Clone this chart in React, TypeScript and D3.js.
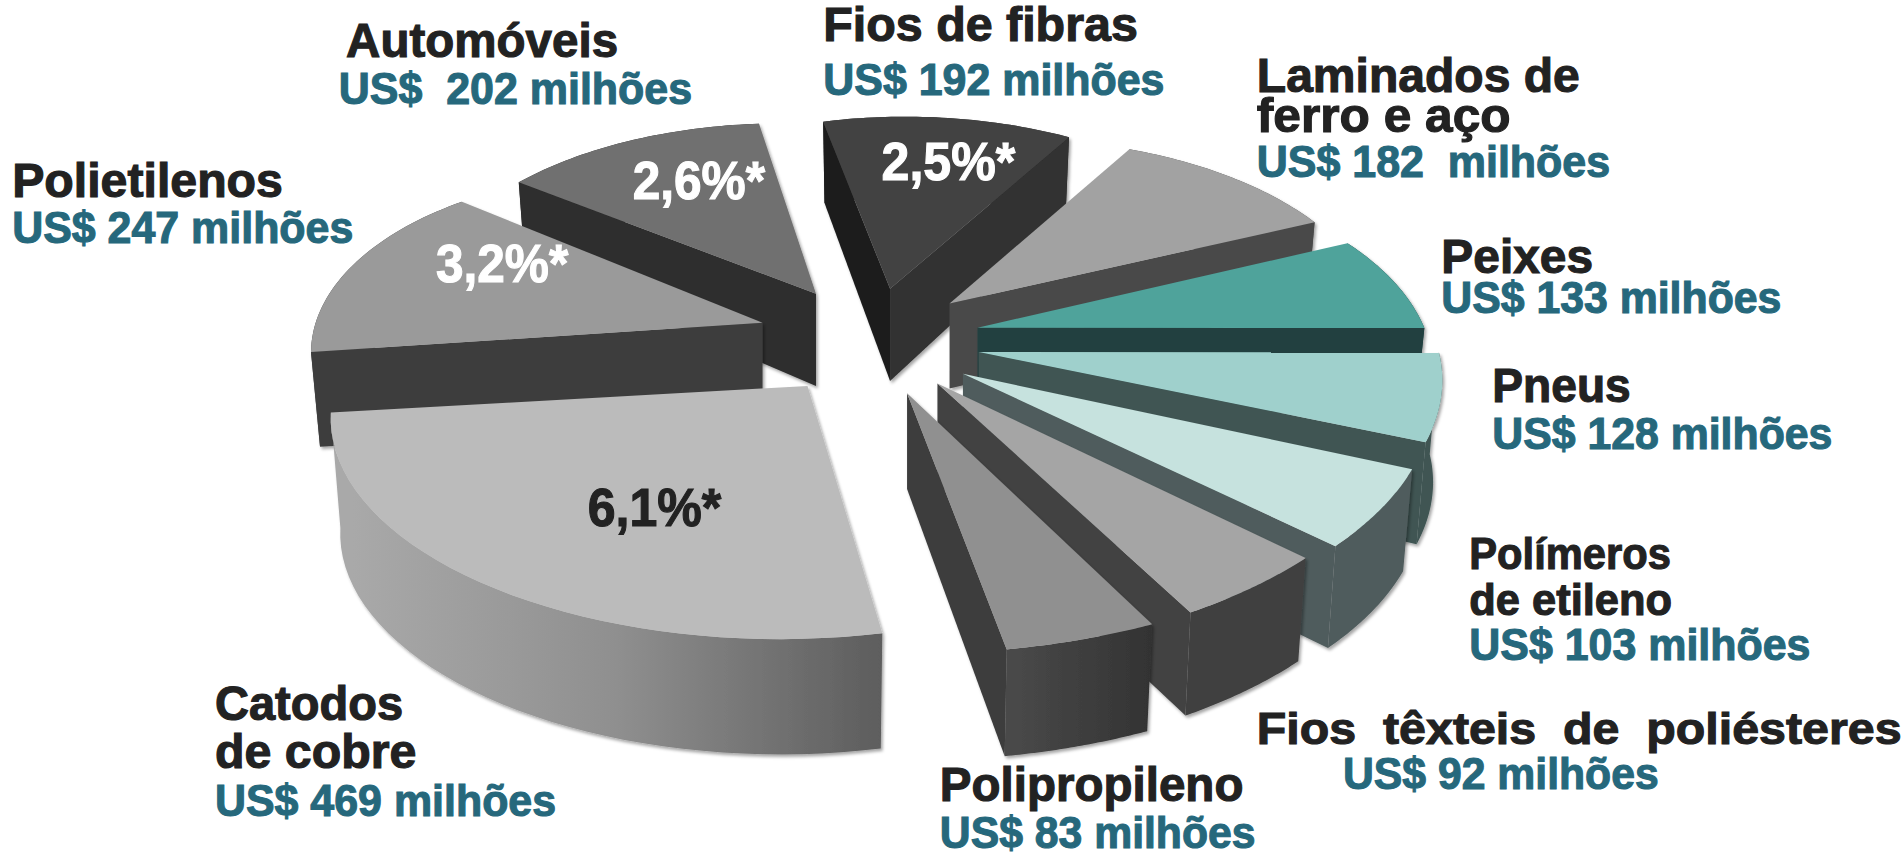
import React from "react";
import * as d3 from "d3";

const categories = ["Catodos de cobre", "Polietilenos", "Automóveis", "Fios de fibras", "Laminados de ferro e aço", "Peixes", "Pneus", "Polímeros de etileno", "Fios têxteis de poliésteres", "Polipropileno"];
const values = [469, 247, 202, 192, 182, 133, 128, 103, 92, 83];

// Layout, in the 1568-wide reference frame
const apexX = [665, 628, 672, 733, 782, 805, 806, 793, 772, 747];
const apexY = [318, 266, 242, 238, 250, 270, 290, 308, 316, 324];
const radiusStart = [412, 375, 306, 281, 294, 335, 379, 402, 418, 431];
const radiusEnd = [395, 318, 284, 290, 329, 368, 397, 418, 431, 430];
const radiusBulge = [18, 4, 0, 0, 0, 0, 0, 0, 0, 0];
const nudgeStart = [0, -1, -5.3, -3.2, 0.6, 0, -1.5, -3.7, -3.5, -3];
const nudgeEnd = [0, -3.3, -1.4, 0.9, 0.6, -1.5, -4.7, -4.2, -4, -2.4];
const depthApex = [85, 80, 76, 76, 70, 70, 75, 80, 82, 79];
const depthRim = [95, 78, 65, 67, 68, 70, 84, 84, 85, 88];
const topColors = ["#bbbbbb", "#9a9a9a", "#707070", "#434343", "#a2a2a2", "#4fa39b", "#9fd0cc", "#c6e2de", "#a5a5a5", "#909090"];
const startWall = ["#555", "#3e3e3e", "#2d2d2d", "#1c1c1c", "#4a4a4a", "#204040", "#3f5553", "#505c5d", "#434343", "#3c3c3c"];
const endWall = ["#555", "#3e3e3e", "#2d2d2d", "#303030", "#4a4a4a", "#204040", "#3f5553", "#505c5d", "#434343", "#3c3c3c"];
const rimWall = ["url(#gCat)", "#3e3e3e", "#2d2d2d", "#303030", "#4a4a4a", "#204040", "#3f5553", "#505c5d", "#404040", "url(#gPoli)"];
const paintOrder = [2, 3, 4, 1, 5, 6, 7, 8, 9, 0];

const Y_RATIO = 0.5;
const START_DEG = 171.4;
const SHRINK = 0.98;
const BLACK = "#222222";
const TEAL = "#26687c";
const WHITE = "#ffffff";
const HEAD = 39;
const MONEY = 36;

// text, x0, x1, baseline, colour, size
type Label = [string, number, number, number, string, number];
const labels: Label[] = [
  ["Automóveis", 285, 509, 47, BLACK, HEAD],
  ["US$  202 milhões", 279, 570, 86, TEAL, MONEY],
  ["Fios de fibras", 678, 937, 34, BLACK, HEAD],
  ["US$ 192 milhões", 678, 959, 78, TEAL, MONEY],
  ["Laminados de", 1035, 1301, 76, BLACK, HEAD],
  ["ferro e aço", 1035, 1244, 109, BLACK, HEAD],
  ["US$ 182  milhões", 1035, 1326, 146, TEAL, MONEY],
  ["Peixes", 1187, 1312, 225, BLACK, HEAD],
  ["US$ 133 milhões", 1187, 1467, 258, TEAL, MONEY],
  ["Pneus", 1229, 1343, 331, BLACK, HEAD],
  ["US$ 128 milhões", 1229, 1509, 370, TEAL, MONEY],
  ["Polímeros", 1210, 1376, 469, BLACK, 36],
  ["de etileno", 1210, 1377, 507, BLACK, 36],
  ["US$ 103 milhões", 1210, 1491, 544, TEAL, MONEY],
  ["Fios  têxteis  de  poliésteres", 1035, 1566, 613, BLACK, 37],
  ["US$ 92 milhões", 1106, 1366, 650, TEAL, MONEY],
  ["Polipropileno", 774, 1024, 660, BLACK, HEAD],
  ["US$ 83 milhões", 774, 1034, 699, TEAL, MONEY],
  ["Catodos", 177, 332, 593, BLACK, HEAD],
  ["de cobre", 177, 343, 633, BLACK, HEAD],
  ["US$ 469 milhões", 177, 458, 672, TEAL, MONEY],
  ["Polietilenos", 10, 233, 162, BLACK, HEAD],
  ["US$ 247 milhões", 10, 291, 200, TEAL, MONEY],
  ["2,6%*", 521, 630, 164, WHITE, 44],
  ["2,5%*", 726, 836, 148, WHITE, 44],
  ["3,2%*", 359, 468, 232, WHITE, 44],
  ["6,1%*", 484, 594, 433, BLACK, 44],
];

const pieAngles = d3
  .pie<number>()
  .sort(null)
  .startAngle((START_DEG * Math.PI) / 180)
  .endAngle((START_DEG * Math.PI) / 180 + 2 * Math.PI)(values);

const line = d3.line<[number, number]>().x((d) => d[0]).y((d) => d[1]);

function slice(i: number) {
  const a0 = pieAngles[i].startAngle + (nudgeStart[i] * Math.PI) / 180;
  const a1 = pieAngles[i].endAngle + (nudgeEnd[i] * Math.PI) / 180;
  const ax = apexX[i];
  const ay = apexY[i];
  const angle = d3.scaleLinear().domain([0, 1]).range([a0, a1]);
  const radius = d3.scaleLinear().domain([0, 1]).range([radiusStart[i], radiusEnd[i]]);
  const ts = d3.range(0, 41).map((k) => k / 40);
  const rAt = (t: number) => radius(t) + radiusBulge[i] * 4 * t * (1 - t);
  const rim: [number, number][] = ts.map((t) => [
    ax + rAt(t) * Math.sin(angle(t)),
    ay - rAt(t) * Y_RATIO * Math.cos(angle(t)),
  ]);
  const low = (p: [number, number]): [number, number] => [ax + (p[0] - ax) * SHRINK, p[1] + depthRim[i]];
  const rimLow = rim.map(low);
  const apexLow: [number, number] = [ax, ay + depthApex[i]];
  const apex: [number, number] = [ax, ay];
  const top = line([apex, ...rim])! + "Z";
  const arc = line([...rim, ...rimLow.slice().reverse()])! + "Z";
  const s = line([apex, rim[0], rimLow[0], apexLow])! + "Z";
  const e = line([apex, rim[40], rimLow[40], apexLow])! + "Z";
  return { top, arc, s, e, showS: Math.sin(a0) < 0, showE: Math.sin(a1) > 0 };
}

export default function App() {
  return (
    <svg
      width={1904}
      height={852}
      viewBox="0 0 1568 702"
      preserveAspectRatio="none"
      style={{ position: "absolute", left: 0, top: 0, display: "block", background: "#fff" }}
    >
      <defs>
        <linearGradient id="gCat" gradientUnits="userSpaceOnUse" x1={290} x2={727} y1={0} y2={0}>
          <stop offset="0" stopColor="#a9a9a9" />
          <stop offset="0.5" stopColor="#8f8f8f" />
          <stop offset="1" stopColor="#5d5d5d" />
        </linearGradient>
        <linearGradient id="gPoli" gradientUnits="userSpaceOnUse" x1={830} x2={947} y1={0} y2={0}>
          <stop offset="0" stopColor="#4a4a4a" />
          <stop offset="1" stopColor="#333333" />
        </linearGradient>
        <filter id="soft" x="-10%" y="-10%" width="120%" height="120%">
          <feDropShadow dx={1.5} dy={2} stdDeviation={1.5} floodColor="#000" floodOpacity={0.35} />
        </filter>
      </defs>
      {paintOrder.map((i) => {
        const p = slice(i);
        return (
          <g key={categories[i]} filter="url(#soft)">
            <path d={p.arc} fill={rimWall[i]} />
            {p.showS && <path d={p.s} fill={startWall[i]} />}
            {p.showE && <path d={p.e} fill={endWall[i]} />}
            <path d={p.top} fill={topColors[i]} />
          </g>
        );
      })}
      {labels.map(([t, x0, x1, y, c, fs]) => (
        <text
          key={t + x0}
          x={x0}
          y={y}
          fill={c}
          stroke={c}
          strokeWidth={0.9}
          fontFamily="'Liberation Sans', Arial, sans-serif"
          fontWeight={700}
          fontSize={fs}
          textLength={x1 - x0}
          lengthAdjust="spacingAndGlyphs"
          style={{ whiteSpace: "pre" }}
        >
          {t}
        </text>
      ))}
    </svg>
  );
}
